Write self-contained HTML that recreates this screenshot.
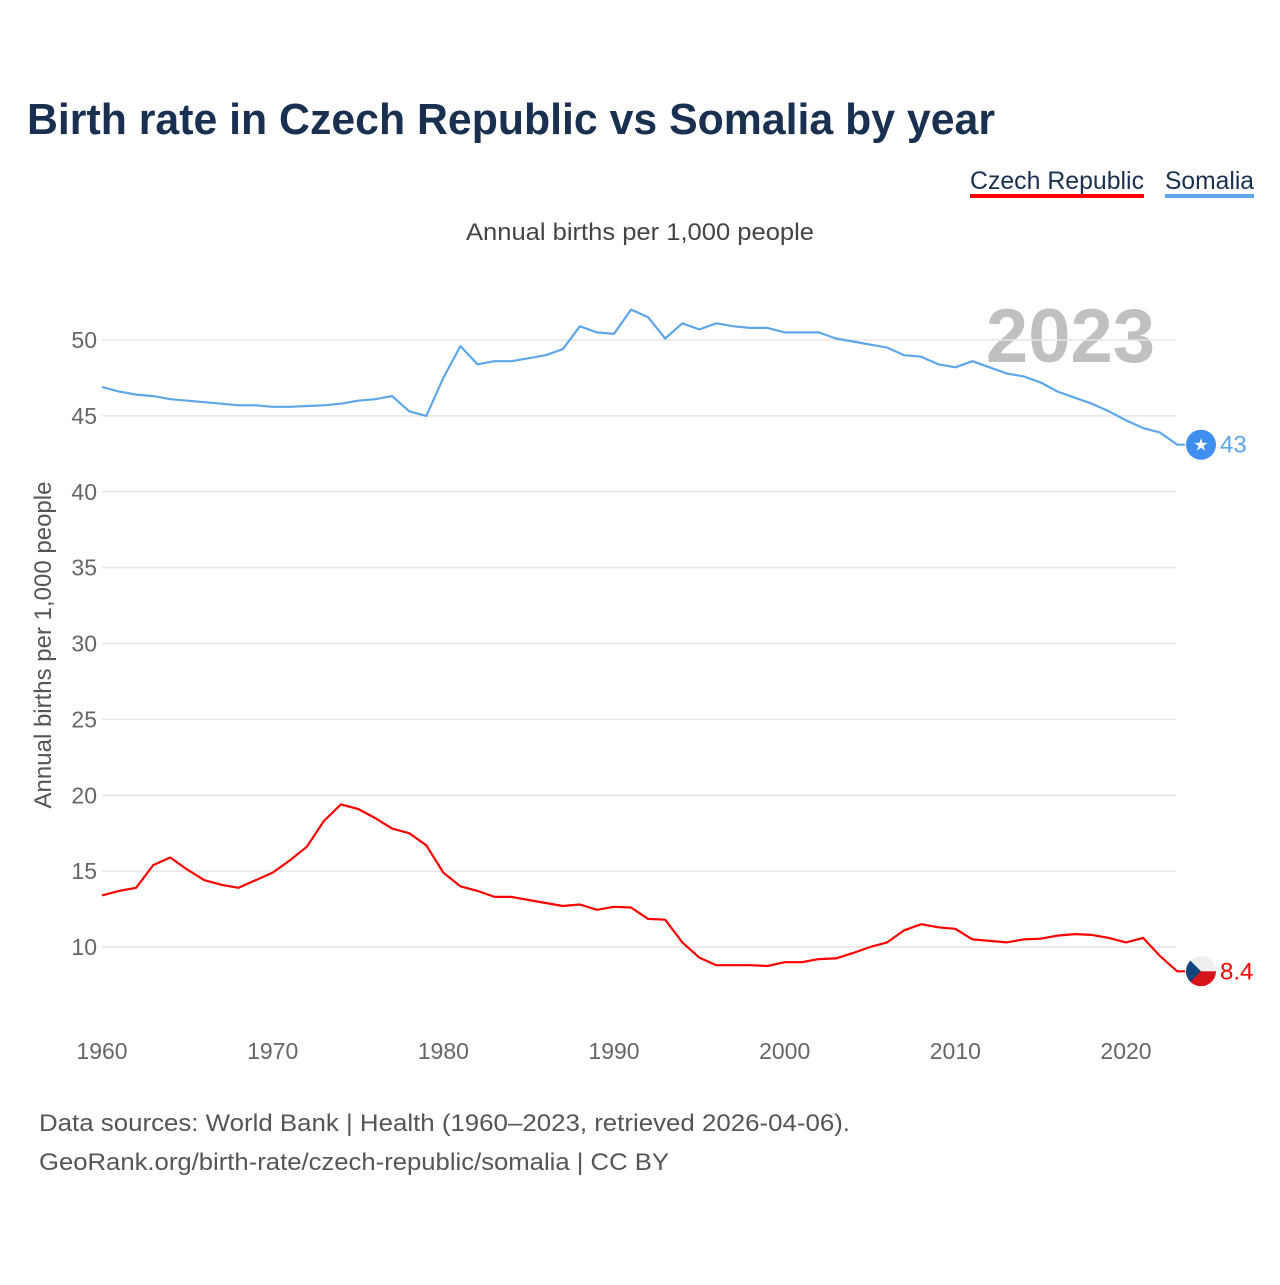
<!DOCTYPE html>
<html><head><meta charset="utf-8"><style>
body{margin:0;background:#fff;width:1280px;height:1280px;overflow:hidden;font-family:"Liberation Sans",sans-serif}
</style></head><body>
<svg id="chart" width="1280" height="1280" xmlns="http://www.w3.org/2000/svg" style="font-family:'Liberation Sans',sans-serif">
<text x="27" y="134" font-size="44" font-weight="bold" fill="#1a3050" textLength="968" lengthAdjust="spacingAndGlyphs">Birth rate in Czech Republic vs Somalia by year</text>
<g><text x="970" y="189" font-size="25" fill="#1a3050" textLength="174" lengthAdjust="spacingAndGlyphs">Czech Republic</text><rect x="970" y="194" width="174" height="4" fill="#ff0000"/></g>
<g><text x="1165" y="189" font-size="25" fill="#1a3050" textLength="89" lengthAdjust="spacingAndGlyphs">Somalia</text><rect x="1165" y="194" width="89" height="4" fill="#5ea6ea"/></g>
<text x="466" y="240" font-size="24" fill="#444" textLength="348" lengthAdjust="spacingAndGlyphs">Annual births per 1,000 people</text>
<text transform="translate(51,645) rotate(-90)" font-size="24" fill="#555" text-anchor="middle">Annual births per 1,000 people</text>
<text x="1155" y="362" font-size="76" font-weight="bold" fill="#c0c0c0" text-anchor="end">2023</text>
<g id="grid"></g><g id="xt"></g><g id="series"></g>
<text x="39" y="1131" font-size="24" fill="#555" textLength="811" lengthAdjust="spacingAndGlyphs">Data sources: World Bank | Health (1960–2023, retrieved 2026-04-06).</text>
<text x="39" y="1170" font-size="24" fill="#555" textLength="630" lengthAdjust="spacingAndGlyphs">GeoRank.org/birth-rate/czech-republic/somalia | CC BY</text>
</svg>
<script>
const startYear = 1960;
const yTicks = [10,15,20,25,30,35,40,45,50];
const xTicks = [1960,1970,1980,1990,2000,2010,2020];
const somalia = [46.9,46.6,46.4,46.3,46.1,46.0,45.9,45.8,45.7,45.7,45.6,45.6,45.65,45.7,45.8,46.0,46.1,46.3,45.3,45.0,47.5,49.6,48.4,48.6,48.6,48.8,49.0,49.4,50.9,50.5,50.4,52.0,51.5,50.1,51.1,50.7,51.1,50.9,50.8,50.8,50.5,50.5,50.5,50.1,49.9,49.7,49.5,49.0,48.9,48.4,48.2,48.6,48.2,47.8,47.6,47.2,46.6,46.2,45.8,45.3,44.7,44.2,43.9,43.1];
const czech = [13.4,13.7,13.9,15.4,15.9,15.1,14.4,14.1,13.9,14.4,14.9,15.7,16.6,18.3,19.4,19.1,18.5,17.8,17.5,16.7,14.9,14.0,13.7,13.3,13.3,13.1,12.9,12.7,12.8,12.45,12.65,12.6,11.85,11.8,10.3,9.3,8.8,8.8,8.8,8.75,9.0,9.0,9.2,9.25,9.6,10.0,10.3,11.1,11.5,11.3,11.2,10.5,10.4,10.3,10.5,10.55,10.75,10.85,10.8,10.6,10.3,10.6,9.4,8.4];
const NS="http://www.w3.org/2000/svg";
const X=y=>102+(y-1960)*1024/60;
const Y=v=>947-(v-10)*607/40;
function el(t,a,p){const e=document.createElementNS(NS,t);for(const k in a)e.setAttribute(k,a[k]);p.appendChild(e);return e;}
const g=document.getElementById('grid');
yTicks.forEach(v=>{
 const l=el('line',{x1:102,x2:1176,y1:Y(v),y2:Y(v),stroke:'#e6e6e6','stroke-width':1.5},g);
 
 
 const t=el('text',{x:97,y:Y(v)+8,'font-size':23,fill:'#666','text-anchor':'end'},g);
 
 
 t.textContent=v;
});
const xt=document.getElementById('xt');
xTicks.forEach(y=>{
 const t=el('text',{x:X(y),y:1059,'font-size':23,fill:'#666','text-anchor':'middle'},xt);
 
 
 t.textContent=y;
});
const s=document.getElementById('series');
function line(data,color,name){
 const n=data.length;
 const d=data.map((v,i)=>(i?'L':'M')+X(startYear+i).toFixed(1)+','+Y(v).toFixed(1)).join('')+'L'+(X(startYear+n-1)+8).toFixed(1)+','+Y(data[n-1]).toFixed(1);
 const p=el('path',{d:d,fill:'none',stroke:color,'stroke-width':2.2,'stroke-linejoin':'round'},s);
 
 
}
line(somalia,'#5ea6ea','somalia-line');
line(czech,'#ff0000','czech-line');
const lastS=somalia[somalia.length-1], lastC=czech[czech.length-1];
const mx=1201;
const sm=el('g',{},s);


el('circle',{cx:mx,cy:Y(lastS),r:15,fill:'#3f8ff0'},sm);
const st=el('text',{x:mx,y:Y(lastS)+6,'font-size':17,fill:'#fff','text-anchor':'middle'},sm);st.textContent='★';
const sl=el('text',{x:1220,y:Y(lastS)+8,'font-size':24,fill:'#5ea6ea'},s);


sl.textContent=Math.round(lastS);
const cm=el('g',{},s);


const cy=Y(lastC);
el('clipPath',{id:'cc'},cm);
el('circle',{cx:mx,cy:cy,r:15},document.getElementById('cc'));
const cg=el('g',{'clip-path':'url(#cc)'},cm);
el('rect',{x:mx-15,y:cy-15,width:30,height:15,fill:'#eeeeee'},cg);
el('rect',{x:mx-15,y:cy,width:30,height:15,fill:'#d7141a'},cg);
el('polygon',{points:`${mx-15},${cy-15} ${mx},${cy} ${mx-15},${cy+15}`,fill:'#11457e'},cg);
const cl=el('text',{x:1220,y:cy+8,'font-size':24,fill:'#ff0000'},s);


cl.textContent=lastC.toFixed(1);
</script>
</body></html>
